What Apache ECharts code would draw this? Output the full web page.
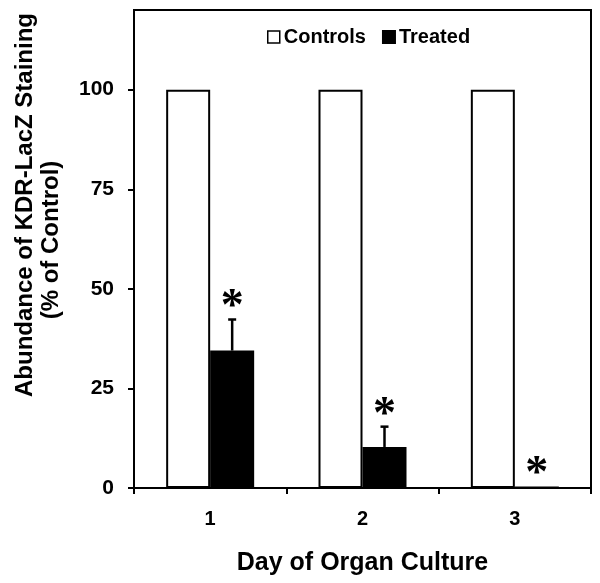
<!DOCTYPE html>
<html>
<head>
<meta charset="utf-8">
<script src="https://cdn.jsdelivr.net/npm/echarts@6/dist/echarts.min.js"></script>
<style>
  html, body { margin: 0; padding: 0; background: #fff; }
  #chart { width: 600px; height: 583px; }
</style>
</head>
<body>
<div id="chart"></div>
<script>
// data
var days = ['1', '2', '3'];
var controls = [100, 100, 100];
var treated = [34.5, 10.3, 0.4];
var treatedErr = [7.8, 5.1, 0];
var yTicks = [0, 25, 50, 75, 100];

var barW = 44;
var font = 'Liberation Sans, Arial, sans-serif';

var chart = echarts.init(document.getElementById('chart'));

chart.setOption({
  animation: false,
  backgroundColor: '#fff',
  textStyle: { fontFamily: font, color: '#000' },
  grid: {
    left: 134, right: 9, top: 10, bottom: 95,
    show: true, borderColor: '#000', borderWidth: 2, backgroundColor: 'transparent'
  },
  legend: {
    left: 262, top: 22,
    itemWidth: 12, itemHeight: 12, itemGap: 16,
    textStyle: { fontFamily: font, fontSize: 20, fontWeight: 'bold', color: '#000', padding: [0, 0, 0, -1] },
    data: [
      { name: 'Controls', icon: 'rect', itemStyle: { color: '#fff', borderColor: '#000', borderWidth: 1.5 } },
      { name: 'Treated', icon: 'rect', itemStyle: { color: '#000' } }
    ]
  },
  xAxis: {
    type: 'category',
    data: days,
    name: 'Day of Organ Culture',
    nameLocation: 'middle',
    nameGap: 63,
    nameTextStyle: { fontFamily: font, fontSize: 25, fontWeight: 'bold', color: '#000' },
    axisLine: { lineStyle: { color: '#000', width: 2 } },
    axisTick: { show: true, length: 6, lineStyle: { color: '#000', width: 2 } },
    axisLabel: { margin: 21, fontFamily: font, fontSize: 20, fontWeight: 'bold', color: '#000' },
    splitLine: { show: false }
  },
  yAxis: {
    type: 'value',
    min: 0, max: 120,
    axisLine: { show: true, lineStyle: { color: '#000', width: 2 } },
    axisTick: { show: true, length: 6, customValues: yTicks, lineStyle: { color: '#000', width: 2 } },
    axisLabel: { margin: 20, customValues: yTicks, fontFamily: font, fontSize: 21, fontWeight: 'bold', color: '#000' },
    splitLine: { show: false }
  },
  graphic: [
    {
      type: 'text', rotation: Math.PI / 2, x: 25, y: 205,
      style: { text: 'Abundance of KDR-LacZ Staining', fontFamily: font, fontSize: 24, fontWeight: 'bold',
        fill: '#000', align: 'center', verticalAlign: 'middle' }
    },
    {
      type: 'text', rotation: Math.PI / 2, x: 51, y: 240,
      style: { text: '(% of Control)', fontFamily: font, fontSize: 24, fontWeight: 'bold',
        fill: '#000', align: 'center', verticalAlign: 'middle' }
    }
  ],
  series: [
    {
      name: 'Controls', type: 'bar', data: controls,
      barWidth: barW, barGap: '0%',
      itemStyle: { color: '#fff', borderColor: '#000', borderWidth: 2 }
    },
    {
      name: 'Treated', type: 'bar', data: treated,
      barWidth: barW, barGap: '0%',
      itemStyle: { color: '#000', borderColor: '#000', borderWidth: 1.5 }
    },
    {
      type: 'custom',
      name: 'err',
      data: treated.map(function (v, i) { return [i, v, treatedErr[i]]; }),
      z: 5,
      renderItem: function (params, api) {
        var i = api.value(0);
        var base = api.coord([i, api.value(1)]);
        var top = api.coord([i, api.value(1) + api.value(2)]);
        var x = base[0] + barW / 2;
        var kids = [];
        if (api.value(2) > 0) {
          kids.push({ type: 'line', shape: { x1: x, y1: base[1], x2: x, y2: top[1] },
            style: { stroke: '#000', lineWidth: 2.5 } });
          kids.push({ type: 'line', shape: { x1: x - 4, y1: top[1], x2: x + 4, y2: top[1] },
            style: { stroke: '#000', lineWidth: 2.5 } });
        }
        kids.push({ type: 'text', x: x, y: top[1] - 11,
          style: { text: '*', fontFamily: 'Liberation Serif, serif', fontSize: 46, fontWeight: 'bold', fill: '#000',
            align: 'center', verticalAlign: 'middle' } });
        return { type: 'group', children: kids };
      }
    }
  ]
});
</script>
</body>
</html>
